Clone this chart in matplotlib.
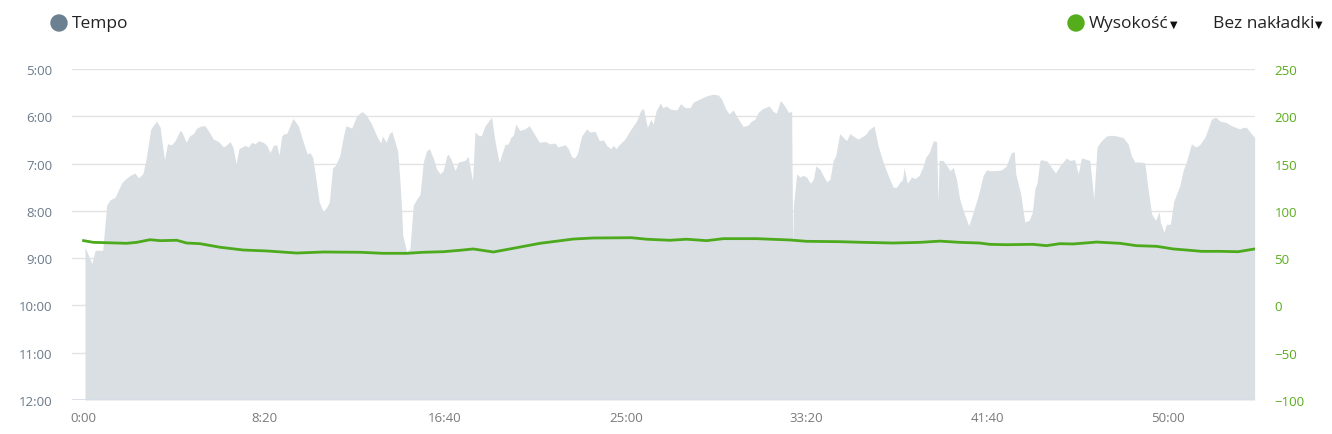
import matplotlib.pyplot as plt
from matplotlib.patches import Ellipse
from matplotlib.ticker import FuncFormatter, MultipleLocator

# pace track: time (s) and pace (s per km)
pace_time = [4, 23, 32, 53, 64, 73, 87, 106, 115, 129, 142, 152, 164, 173, 186, 202, 212, 216, 224, 232,
             244, 253, 267, 272, 284, 293, 304, 313, 327, 336, 345, 359, 373, 387, 399, 405, 413, 422, 430, 447,
             456, 465, 474, 484, 497, 507, 516, 525, 534, 541, 548, 555, 562, 578, 580, 594, 608, 619, 626, 634,
             643, 652, 663, 673, 680, 689, 696, 709, 719, 726, 742, 756, 771, 783, 797, 811, 822, 827, 837, 846,
             853, 862, 869, 875, 880, 883, 894, 903, 912, 922, 931, 940, 949, 957, 968, 977, 986, 995, 1005, 1009,
             1018, 1028, 1037, 1055, 1064, 1076, 1083, 1095, 1101, 1111, 1129, 1138, 1150, 1157, 1166, 1175, 1182, 1189, 1196, 1207,
             1221, 1233, 1244, 1253, 1261, 1277, 1290, 1304, 1313, 1332, 1341, 1350, 1358, 1366, 1378, 1392, 1401, 1415, 1427, 1438,
             1447, 1458, 1466, 1473, 1484, 1498, 1512, 1530, 1541, 1549, 1553, 1560, 1569, 1576, 1584, 1596, 1602, 1613, 1624, 1641,
             1652, 1664, 1678, 1687, 1705, 1724, 1742, 1756, 1765, 1777, 1786, 1797, 1811, 1825, 1839, 1848, 1857, 1867, 1876, 1885,
             1897, 1908, 1917, 1928, 1940, 1950, 1959, 1962, 1964, 1973, 1982, 1991, 2000, 2011, 2019, 2026, 2037, 2046, 2056, 2065,
             2074, 2081, 2092, 2102, 2111, 2120, 2129, 2143, 2157, 2166, 2171, 2187, 2198, 2212, 2226, 2240, 2249, 2258, 2266, 2270,
             2279, 2291, 2300, 2312, 2323, 2330, 2340, 2351, 2360, 2364, 2367, 2378, 2389, 2397, 2406, 2415, 2424, 2434, 2449, 2461,
             2475, 2489, 2498, 2507, 2521, 2540, 2553, 2560, 2567, 2575, 2579, 2589, 2593, 2600, 2604, 2616, 2625, 2632, 2638, 2646,
             2650, 2666, 2678, 2689, 2701, 2719, 2729, 2742, 2752, 2761, 2770, 2784, 2795, 2804, 2816, 2830, 2844, 2858, 2876, 2890,
             2899, 2908, 2922, 2936, 2945, 2955, 2966, 2976, 2979, 2989, 2996, 3007, 3016, 3033, 3042, 3051, 3065, 3077, 3088, 3102,
             3111, 3120, 3132, 3144, 3162, 3176, 3199, 3208, 3217, 3231, 3240]
pace_sec = [526, 547, 530, 530, 473, 466, 463, 444, 440, 435, 432, 438, 433, 414, 376, 366, 374, 389, 415, 395,
            396, 391, 378, 380, 393, 385, 382, 375, 372, 372, 378, 389, 392, 399, 395, 392, 399, 420, 401, 397,
            399, 393, 395, 391, 393, 397, 406, 397, 396, 409, 385, 382, 382, 364, 363, 372, 393, 408, 406, 412,
            440, 469, 481, 475, 469, 425, 423, 410, 385, 372, 375, 359, 354, 359, 370, 385, 394, 385, 393, 382,
            379, 393, 404, 440, 478, 511, 532, 528, 473, 465, 459, 418, 404, 401, 414, 427, 433, 429, 410, 408,
            416, 429, 418, 416, 411, 442, 380, 385, 384, 372, 361, 391, 419, 408, 396, 395, 387, 384, 370, 378,
            376, 372, 380, 387, 393, 392, 395, 394, 399, 396, 401, 411, 413, 408, 385, 376, 380, 379, 391, 390,
            397, 401, 397, 401, 395, 389, 378, 366, 353, 350, 359, 374, 364, 370, 353, 343, 349, 347, 351, 352,
            344, 349, 349, 342, 338, 334, 332, 333, 338, 351, 357, 352, 363, 373, 371, 366, 364, 355, 351, 349,
            347, 354, 356, 340, 347, 355, 354, 526, 473, 433, 437, 435, 437, 445, 440, 423, 427, 435, 443, 440,
            416, 410, 382, 387, 391, 382, 385, 389, 385, 382, 378, 372, 397, 418, 435, 450, 450, 444, 440, 425,
            445, 437, 439, 435, 423, 412, 406, 391, 392, 469, 416, 416, 423, 429, 425, 440, 465, 480, 499, 482,
            461, 435, 428, 429, 429, 428, 423, 414, 406, 405, 433, 452, 459, 482, 494, 492, 482, 452, 444, 416,
            415, 417, 425, 432, 423, 413, 416, 415, 433, 413, 414, 416, 465, 399, 391, 385, 384, 385, 387, 395,
            410, 418, 418, 419, 452, 484, 492, 481, 494, 507, 497, 497, 468, 448, 429, 418, 395, 399, 396, 387,
            376, 364, 361, 366, 368, 372, 376, 374, 374, 382, 387]

# elevation track: time (s) and altitude (m)
elev_time = [0, 27, 119, 147, 184, 212, 258, 285, 322, 378, 442, 507, 590, 663, 765, 829, 894, 940, 995, 1041,
             1078, 1134, 1189, 1263, 1355, 1410, 1516, 1558, 1622, 1668, 1724, 1770, 1862, 1954, 2000, 2092,
             2157, 2240, 2314, 2369, 2424, 2479, 2507, 2553, 2627, 2664, 2701, 2738, 2803, 2867, 2913, 2969,
             3015, 3051, 3093, 3144, 3194, 3240]
elev_m = [68.5, 66.7, 65.7, 66.7, 69.5, 68.5, 68.9, 66.0, 65.3, 61.5, 58.6, 57.6, 55.4, 56.5, 56.2, 55.1, 55.1, 56.2, 56.8, 58.3,
          59.7, 56.5, 60.4, 65.7, 70.2, 71.3, 71.6, 70.0, 68.9, 70.0, 68.5, 70.6, 70.6, 69.2, 67.8, 67.4,
          66.7, 66.0, 66.7, 68.0, 66.7, 66.0, 64.6, 64.2, 64.6, 63.2, 65.3, 65.0, 67.0, 65.7, 63.2, 62.5,
          59.7, 58.6, 57.2, 57.2, 56.8, 59.7]

pace_ticks = [300, 360, 420, 480, 540, 600, 660, 720]
time_ticks = [0, 500, 1000, 1500, 2000, 2500, 3000]


def mmss(v, pos=None):
    v = int(round(v))
    return "%d:%02d" % (v // 60, v % 60)


plt.rcParams['font.family'] = ['Open Sans', 'DejaVu Sans']

W, H = 1332, 435
fig = plt.figure(figsize=(W / 100, H / 100), dpi=100)
ax = fig.add_axes([72 / W, 1 - 401 / H, (1255 - 72) / W, (401 - 70) / H])

ax.fill_between(pace_time, pace_sec, 720, color='#dadfe3', lw=0, zorder=1)
ax.set_ylim(720, 300)
ax.set_xlim(-32, 3241)
ax.set_yticks(pace_ticks)
ax.set_xticks(time_ticks)
ax.yaxis.set_major_formatter(FuncFormatter(mmss))
ax.xaxis.set_major_formatter(FuncFormatter(mmss))
ax.grid(axis='y', color='#e3e3e3', lw=1, zorder=0)
ax.set_axisbelow(True)
for s in ax.spines.values():
    s.set_visible(False)
ax.tick_params(axis='y', length=0, pad=14, labelsize=9.5, labelcolor='#6a7a8a')
ax.tick_params(axis='x', length=0, pad=8, labelsize=9.5, labelcolor='#7a7a7a')
ax.axhline(720, color='#d5dde8', lw=1.2, zorder=2)

ax2 = ax.twinx()
ax2.plot(elev_time, elev_m, color='#4caa1c', lw=2, zorder=3)
ax2.set_ylim(-100, 250)
ax2.yaxis.set_major_locator(MultipleLocator(50))
for s in ax2.spines.values():
    s.set_visible(False)
ax2.tick_params(axis='y', length=0, pad=14, labelsize=9.5, labelcolor='#5aac1a')

# legend / header
def dot(x, y, c):
    fig.patches.append(Ellipse((x / W, 1 - y / H), 16 / W, 16 / H, transform=fig.transFigure,
                               color=c, figure=fig))


dot(59, 24, '#6b8091')
fig.text(72 / W, 1 - 24 / H, 'Tempo', fontsize=12.5, color='#222222', va='center', ha='left')

dot(1076, 24, '#55ad1c')
fig.text(1089 / W, 1 - 24 / H, 'Wysokość', fontsize=12.5, color='#222222', va='center', ha='left')
fig.text(1170 / W, 1 - 25 / H, '▼', fontsize=7, color='#111111', va='center', ha='left',
         family='DejaVu Sans')
fig.text(1213 / W, 1 - 24 / H, 'Bez nakładki', fontsize=12.5, color='#222222', va='center', ha='left')
fig.text(1315 / W, 1 - 25 / H, '▼', fontsize=7, color='#111111', va='center', ha='left',
         family='DejaVu Sans')

fig.savefig('out.png', dpi=100)
